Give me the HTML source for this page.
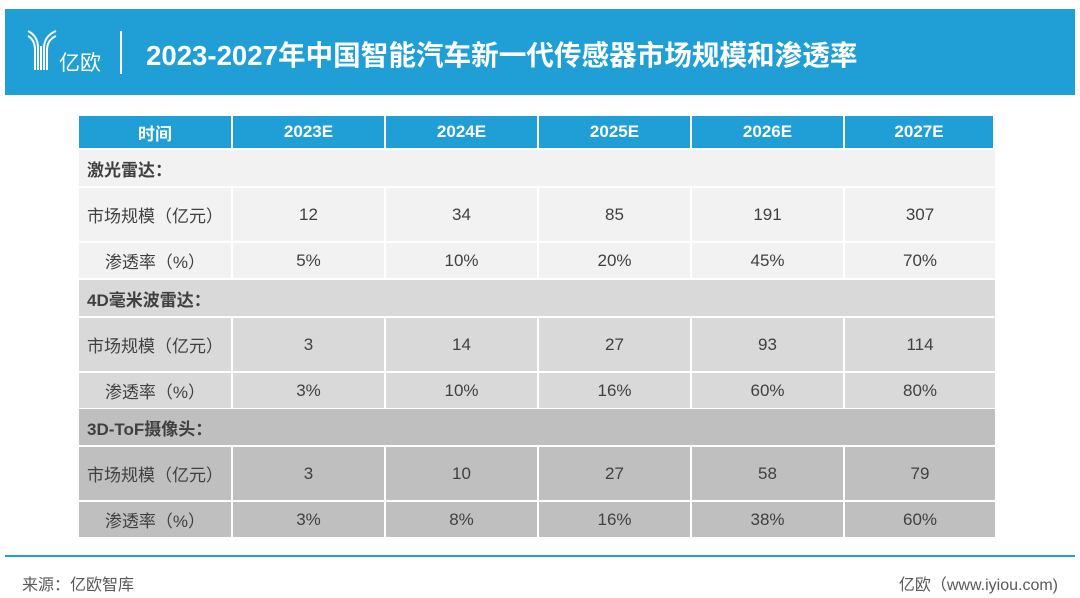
<!DOCTYPE html>
<html><head><meta charset="utf-8"><style>
body{margin:0;width:1080px;height:598px;background:#fff;position:relative;overflow:hidden;font-family:"Liberation Sans","Noto Sans CJK SC",sans-serif;}
.a{position:absolute;box-sizing:border-box;display:flex;align-items:center;justify-content:center;color:#404040;font-size:17px;}
.hd{background:#1f9fd6;color:#fff;font-weight:bold;font-size:17px;}
.lab{justify-content:flex-start;padding-left:8px;font-weight:bold;font-size:17px;}
</style></head><body>
<div style="position:absolute;left:5px;top:9px;width:1070px;height:86px;background:#1f9fd6;"></div>
<svg style="position:absolute;left:26px;top:28px" width="32" height="44" viewBox="0 0 32 44">
<g fill="none" stroke="#fff" stroke-width="2">
<path d="M2 3 Q12 8 12 20 L12 42"/><path d="M2 8 Q9 12 9 22 L9 42"/>
<path d="M30 3 Q18 8 18 20 L18 42"/><path d="M30 8 Q21 12 21 22 L21 42"/>
<path d="M15 18 L15 42"/></g></svg>
<div style="position:absolute;left:59px;top:47px;color:#fff;font-size:21px;">亿欧</div>
<div style="position:absolute;left:120px;top:31px;width:2px;height:43px;background:#fff;"></div>
<div style="position:absolute;left:146px;top:33px;color:#fff;font-size:27.6px;font-weight:bold;">2023-2027年中国智能汽车新一代传感器市场规模和渗透率</div>
<div id="t"></div>
<div style="position:absolute;left:5px;top:555px;width:1070px;height:2px;background:#1f9fd6;"></div>
<div style="position:absolute;left:22px;top:571px;color:#595959;font-size:16px;">来源：亿欧智库</div>
<div style="position:absolute;right:22px;top:571px;color:#595959;font-size:16px;">亿欧（www.iyiou.com)</div>
<script>
var xs=[79,233,386,539,692,845,995];
var h='';
function cell(x1,x2,y,hh,bg,txt,cls){h+='<div class="a '+(cls||'')+'" style="left:'+x1+'px;top:'+y+'px;width:'+(x2-x1)+'px;height:'+hh+'px;background:'+bg+'">'+txt+'</div>';}
var hdr=['时间','2023E','2024E','2025E','2026E','2027E'];
for(var i=0;i<6;i++)cell(xs[i],xs[i+1]-2,116,32,'#1f9fd6',hdr[i],'hd');
var secs=[['激光雷达：','#f2f2f2',150,[12,34,85,191,307],['5%','10%','20%','45%','70%']],
['4D毫米波雷达：','#d9d9d9',280,[3,14,27,93,114],['3%','10%','16%','60%','80%']],
['3D-ToF摄像头：','#bfbfbf',409,[3,10,27,58,79],['3%','8%','16%','38%','60%']]];
secs.forEach(function(s){var y=s[2];
cell(xs[0],995,y,36,s[1],s[0],'lab');
var y1=y+38;cell(xs[0],xs[1]-2,y1,53,s[1],'市场规模（亿元）');
for(var i=0;i<5;i++)cell(xs[i+1],xs[i+2]-2+(i==4?2:0),y1,53,s[1],s[3][i]);
var y2=y1+55;cell(xs[0],xs[1]-2,y2,35,s[1],'渗透率（%）');
for(var i=0;i<5;i++)cell(xs[i+1],xs[i+2]-2+(i==4?2:0),y2,35,s[1],s[4][i]);
});
document.getElementById('t').innerHTML=h;
</script>
</body></html>
